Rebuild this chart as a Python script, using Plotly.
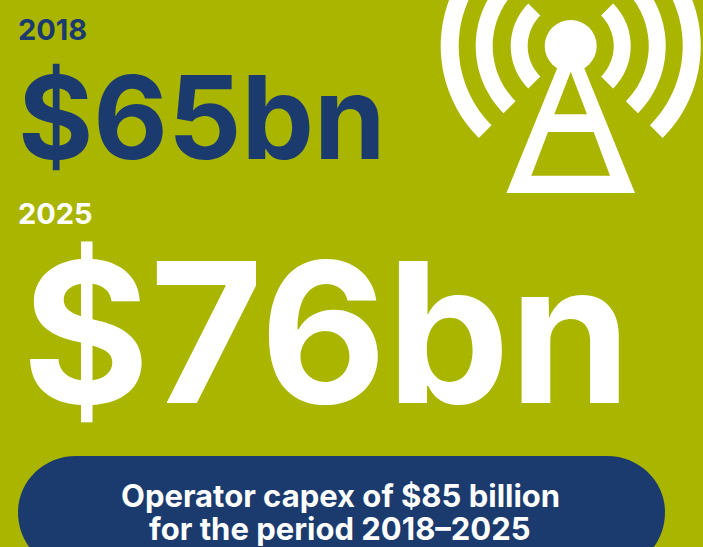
import numpy as np
import plotly.graph_objects as go

years = ["2018", "2025"]
values = [65, 76]
caption = ["Operator capex of $85 billion", "for the period 2018–2025"]

GREEN = "#AAB500"
NAVY = "#1B3B6F"
WHITE = "#FFFFFF"
FONT = "Inter, Open Sans, sans-serif"

W, H = 703, 547
CX, CY = 570.7, 46


def arc(cx, cy, r0, r1, a0, a1, n=40):
    t = np.radians(np.linspace(a0, a1, n))
    xs = np.r_[cx + r1 * np.cos(t), cx + r0 * np.cos(t[::-1])]
    ys = np.r_[cy + r1 * np.sin(t), cy + r0 * np.sin(t[::-1])]
    return "M" + " L".join(f"{x:.1f},{y:.1f}" for x, y in zip(xs, ys)) + " Z"


def poly(points, color):
    p = "M" + " L".join(f"{x},{y}" for x, y in points) + " Z"
    return dict(type="path", path=p, fillcolor=color, line_width=0, layer="above")


shapes = [
    # caption pill
    dict(type="path",
         path="M76,456 L607,456 C640,456 665,482 665,512 C665,545 640,570 607,570 "
              "L76,570 C43,570 18,545 18,512 C18,482 43,456 76,456 Z",
         fillcolor=NAVY, line_width=0, layer="below"),
]
for r0, r1 in [(43, 60), (78, 95), (112, 130)]:
    for a0, a1 in [(-45, 45), (135, 225)]:
        shapes.append(dict(type="path", path=arc(CX, CY, r0, r1, a0, a1),
                           fillcolor=WHITE, line_width=0, layer="above"))
# tower
shapes.append(poly([(506.4, 193), (570.7, 35), (635, 193)], WHITE))
shapes.append(poly([(570.7, 71.7), (554.3, 114.3), (587, 114.3)], GREEN))
shapes.append(poly([(548, 132), (593.7, 132), (610, 175.7), (531.3, 175.7)], GREEN))
shapes.append(dict(type="circle", x0=CX - 26, x1=CX + 26, y0=CY - 26, y1=CY + 26,
                   fillcolor=WHITE, line_width=0, layer="above"))


def label(x, y, text, size, color, anchor="left"):
    return dict(x=x, y=y, text=text, showarrow=False, xanchor=anchor, yanchor="middle",
                xref="x", yref="y", align=anchor,
                font=dict(family=FONT, size=size, color=color, weight=700))


annotations = [
    label(16, 29, years[0], 29, NAVY),
    label(16, 117, f"${values[0]}bn", 115, NAVY),
    label(16, 213, years[1], 29, WHITE),
    label(20, 332, f"${values[1]}bn", 195, WHITE),
    label(340, 495, caption[0], 31, WHITE, "center"),
    label(340, 528, caption[1], 31, WHITE, "center"),
]

fig = go.Figure()
fig.update_layout(
    width=W, height=H, margin=dict(l=0, r=0, t=0, b=0),
    paper_bgcolor=GREEN, plot_bgcolor=GREEN,
    xaxis=dict(range=[0, W], visible=False, fixedrange=True),
    yaxis=dict(range=[H, 0], visible=False, fixedrange=True),
    shapes=shapes, annotations=annotations, showlegend=False,
)
fig.write_html("out.html", config=dict(displayModeBar=False),
               post_script="document.body.style.margin='0';document.body.style.overflow='hidden';")
